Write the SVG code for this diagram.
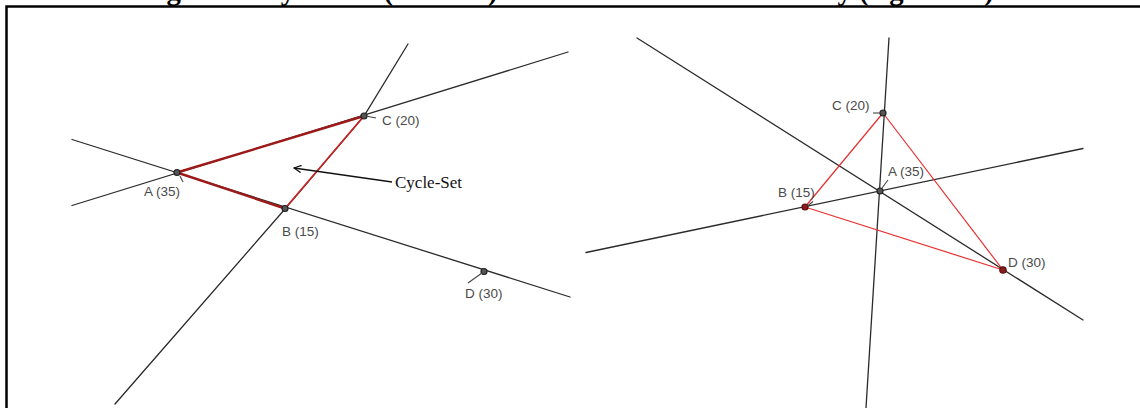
<svg xmlns="http://www.w3.org/2000/svg" width="1140" height="408" viewBox="0 0 1140 408">
  <style>
    .title { font-family: "Liberation Serif", "Times New Roman", serif; font-weight: bold; font-size: 28.7px; fill: #000; }
    .frame { fill: none; stroke: #000; stroke-width: 2.5; }
    .line { fill: none; stroke: #2a2a2a; stroke-width: 1.3; stroke-linecap: round; }
    .tick { fill: none; stroke: #444; stroke-width: 1.1; }
    .cycle { fill: none; stroke: #9c1a1a; stroke-width: 2.4; stroke-linecap: round; }
    .edge-l { fill: none; stroke: #d02424; stroke-width: 1.6; stroke-linecap: round; }
    .edge-r { fill: none; stroke: #e83030; stroke-width: 1.2; stroke-linecap: round; }
    .node { fill: #555; stroke: #222; stroke-width: 1.2; }
    .node-red { fill: #8a1c1c; stroke: #5a1010; stroke-width: 1.2; }
    .lbl { font-family: "Liberation Sans", Arial, sans-serif; font-size: 13.5px; fill: #4a4a4a; }
    .note { font-family: "Liberation Serif", "Times New Roman", serif; font-size: 17px; fill: #111; }
  </style>
  <defs>
    <!-- open chevron, tip at the end of the path -->
    <marker id="open-arrow" viewBox="0 0 10 10" refX="9" refY="5" markerWidth="9" markerHeight="9" markerUnits="userSpaceOnUse" orient="auto">
      <path d="M1,1 L9,5 L1,9" fill="none" stroke="#111" stroke-width="1.4"/>
    </marker>
  </defs>

  <rect width="1140" height="408" fill="#fff"/>

  <!-- caption, sitting above the frame -->
  <text class="title" x="141" y="0.3" textLength="860" lengthAdjust="spacingAndGlyphs">Figure 1: Cycle-Set (left side) and Presence of a Centrality (right side).</text>

  <!-- frame -->
  <path class="frame" d="M6.5,408 V6.5 H1140"/>

  <g id="connectors">
    <!-- left panel: lines -->
    <line class="line" x1="72" y1="205.5" x2="568" y2="52"/>
    <line class="line" x1="72" y1="139.5" x2="570" y2="297"/>
    <polyline class="line" points="115,404 285,209 364,116 408,44"/>
    <!-- left panel: cycle edges -->
    <line class="cycle" x1="177" y1="172.5" x2="364" y2="116"/>
    <line class="cycle" x1="177" y1="172.5" x2="285" y2="208.5"/>
    <line class="edge-l" x1="285" y1="208.5" x2="364" y2="116"/>
    <!-- annotation arrow -->
    <line x1="392" y1="182" x2="294" y2="168" stroke="#111" stroke-width="1.3" marker-end="url(#open-arrow)"/>

    <!-- right panel: lines -->
    <line class="line" x1="889" y1="38" x2="866" y2="408"/>
    <line class="line" x1="637" y1="38" x2="1083" y2="320"/>
    <line class="line" x1="586" y1="252.5" x2="1083" y2="148.5"/>
    <!-- right panel: red edges -->
    <line class="edge-r" x1="883" y1="113" x2="805" y2="207"/>
    <line class="edge-r" x1="805" y1="207" x2="1003" y2="270"/>
    <line class="edge-r" x1="883" y1="113" x2="1003" y2="270"/>
  </g>

  <!-- left panel nodes -->
  <g id="l-A">
    <circle class="node" cx="177" cy="172.5" r="3"/>
    <line class="tick" x1="180" y1="176" x2="183" y2="182"/>
    <text class="lbl" x="144" y="196">A (35)</text>
  </g>
  <g id="l-B">
    <circle class="node" cx="285" cy="208.5" r="3"/>
    <text class="lbl" x="282" y="236">B (15)</text>
  </g>
  <g id="l-C">
    <circle class="node" cx="364" cy="116" r="3"/>
    <line class="tick" x1="366" y1="116" x2="376" y2="118"/>
    <text class="lbl" x="382" y="125">C (20)</text>
  </g>
  <g id="l-D">
    <circle class="node" cx="484" cy="271.5" r="3"/>
    <line class="tick" x1="468" y1="283" x2="482" y2="273"/>
    <text class="lbl" x="465" y="298">D (30)</text>
  </g>
  <g id="l-note">
    <text class="note" x="395" y="188">Cycle-Set</text>
  </g>

  <!-- right panel nodes -->
  <g id="r-C">
    <circle class="node" cx="883" cy="113" r="3"/>
    <line class="tick" x1="873" y1="113" x2="881" y2="113"/>
    <text class="lbl" x="832" y="110">C (20)</text>
  </g>
  <g id="r-A">
    <circle class="node" cx="880" cy="191" r="3"/>
    <line class="tick" x1="888" y1="180" x2="882" y2="188"/>
    <text class="lbl" x="888" y="176">A (35)</text>
  </g>
  <g id="r-B">
    <circle class="node-red" cx="805" cy="207" r="3"/>
    <line class="tick" x1="813" y1="201.5" x2="807.5" y2="206"/>
    <text class="lbl" x="778" y="197">B (15)</text>
  </g>
  <g id="r-D">
    <circle class="node-red" cx="1003" cy="270" r="3.2"/>
    <text class="lbl" x="1008" y="267">D (30)</text>
  </g>
</svg>
